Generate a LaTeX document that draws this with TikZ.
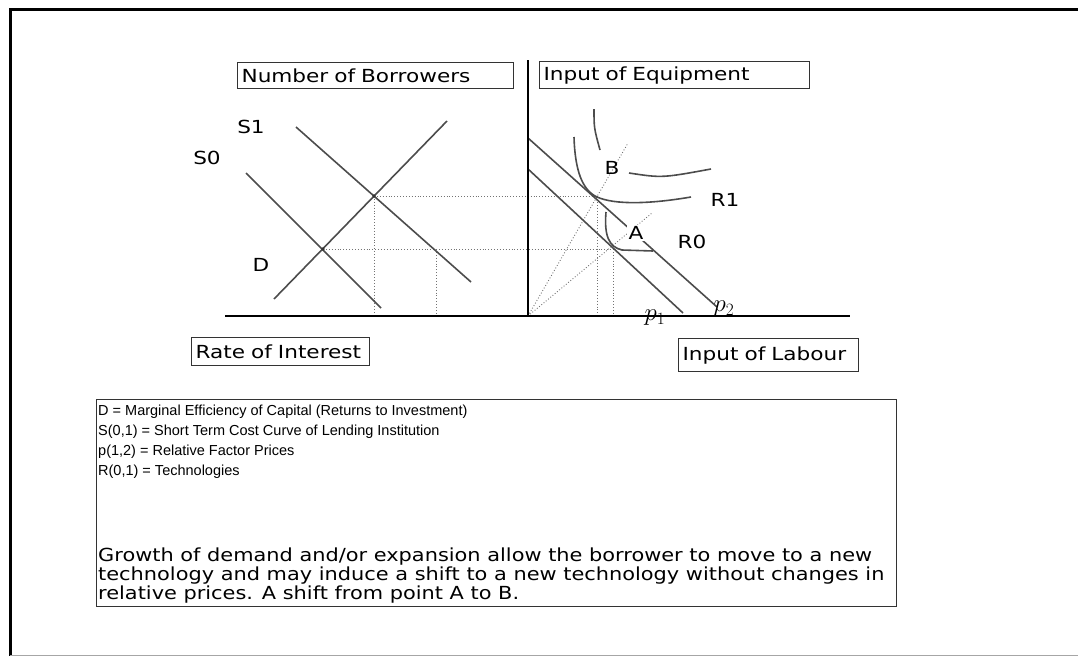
\documentclass[tikz,border=0pt]{standalone}
\usepackage{fontspec}
\usepackage{amsmath}
\newfontfamily\lblfont[FakeStretch=1.2]{DejaVu Sans}
\newfontfamily\parafont[FakeStretch=1.16]{DejaVu Sans}
\newfontfamily\keyfont{Liberation Sans}
\usetikzlibrary{positioning}

\tikzset{
  axis/.style={line width=2pt, black},
  curve/.style={line width=1.6pt, black!70},
  guide/.style={dotted, line width=0.9pt, black!55},
  lbl/.style={font=\lblfont\fontsize{18}{20}\selectfont, inner sep=0pt},
  titlebox/.style={draw, line width=1.2pt, black!80, text=black, anchor=north west,
    align=left, inner xsep=4pt, inner ysep=0pt, font=\lblfont\fontsize{18}{20}\selectfont},
  keyline/.style={anchor=base west, inner sep=0pt, font=\keyfont\fontsize{14.5}{18}\selectfont},
  textline/.style={anchor=base west, inner sep=0pt, font=\parafont\fontsize{18}{20}\selectfont}
}

\begin{document}
\begin{tikzpicture}[x=1pt, y=-1pt, >=stealth]
\useasboundingbox (0,0) rectangle (1078,656);

% Frame
\draw[line width=3pt] (1078,9) -- (10,9) -- (10,656);
\draw[black!35, line width=1pt] (10,655) -- (1078,655);

% Axis titles
\node[titlebox, text width=268pt, minimum height=26pt] (borrow) at (237,62) {Number of Borrowers};
\node[titlebox, text width=262pt, minimum height=27pt] (equip) at (539,61) {Input of Equipment};
\node[titlebox, text width=170pt, minimum height=28pt] (rate) at (191,337) {Rate of Interest};
\node[titlebox, text width=172pt, minimum height=33pt] (labour) at (678,338) {Input of Labour};

% Key points
\coordinate (O) at (528,316);
\coordinate (E1) at (374,196);
\coordinate (E0) at (323,249);
\coordinate (TB) at (597,197);
\coordinate (TA) at (613,249);

% Dotted guides
\draw[guide] (E1) -- (TB |- E1) -- (597,315);
\draw[guide] (E0) -- (TA) -- (613,315);
\draw[guide] (E1) -- (374,314);
\draw[guide] (436,249) -- (436,314);
\draw[guide] (O) -- (628,143);
\draw[guide] (O) -- (652,213);

% Credit market
\draw[curve] (274,299) -- (447,121);
\draw[curve] (296,127) -- (471,282);
\draw[curve] (246,173) -- (381,308);
\fill[black!80] (E1) circle (1.8);
\fill[black!80] (E0) circle (1.8);

% Budget lines
\draw[curve] (528,138) -- (717,307);
\draw[curve] (528,169) -- (683,313);

% Isoquants
\draw[curve] (594,109) .. controls (594,128) .. (600,150);
\draw[curve] (629,173) .. controls (662,178) .. (711,169);
\draw[curve] (574,137) .. controls (575,170) and (582,190) .. (TB)
  .. controls (615,205) and (650,204) .. (691,197);
\draw[curve] (606,212) .. controls (604,236) and (609,247) .. (622,250) -- (653,251);

% Axes
\draw[axis] (225,316) -- (850,316);
\draw[axis] (528,60) -- (O);

% Curve labels
\node[lbl] (s1) at (251,127) {S1};
\node[lbl] (s0) at (207,158) {S0};
\node[lbl] (d) at (261,265) {D};
\node[lbl] (b) at (612,168) {B};
\node[lbl, fill=white, inner sep=1.5pt] (a) at (636,233) {A};
\node[lbl] (r1) at (725,200) {R1};
\node[lbl] (r0) at (692,242) {R0};
\node[inner sep=0pt, font=\fontsize{24}{24}\selectfont] (p1) at (655,318) {$p_1$};
\node[inner sep=0pt, font=\fontsize{24}{24}\selectfont] (p2) at (724,309) {$p_2$};

% Legend
\node[draw, line width=1.2pt, black!80, anchor=north west, minimum width=800pt,
  minimum height=207pt] (legend) at (96,399) {};
\node[keyline] (k1) at (98,415) {D = Marginal Efficiency of Capital (Returns to Investment)};
\node[keyline] (k2) at (98,435) {S(0,1) = Short Term Cost Curve of Lending Institution};
\node[keyline] (k3) at (98,455) {p(1,2) = Relative Factor Prices};
\node[keyline] (k4) at (98,475) {R(0,1) = Technologies};
\node[textline] (t1) at (98,561) {Growth of demand and/or expansion allow the borrower to move to a new};
\node[textline] (t2) at (98,580) {technology and may induce a shift to a new technology without changes in};
\node[textline] (t3) at (98,599) {relative prices. A shift from point A to B.};

\end{tikzpicture}
\end{document}
